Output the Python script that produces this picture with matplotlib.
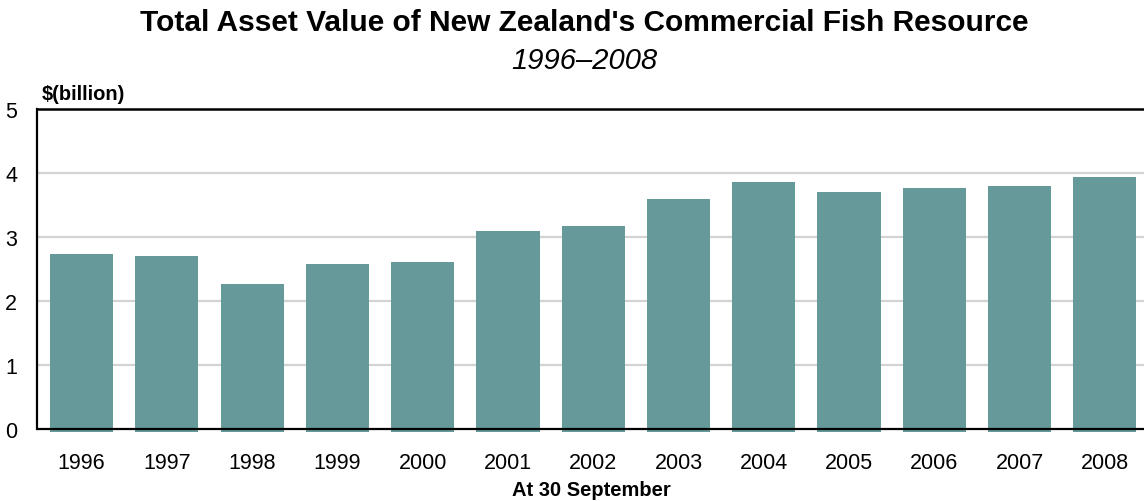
import matplotlib
matplotlib.use("Agg")
import matplotlib.pyplot as plt
import numpy as np

plt.rcParams['font.family'] = ['Liberation Sans', 'DejaVu Sans']

years = ["1996", "1997", "1998", "1999", "2000", "2001", "2002",
         "2003", "2004", "2005", "2006", "2007", "2008"]
values = [2.73, 2.70, 2.27, 2.58, 2.61, 3.09, 3.17, 3.59, 3.86, 3.70, 3.77, 3.80, 3.94]
yticks = [0, 1, 2, 3, 4, 5]

BAR_COLOR = "#669999"
OVERHANG = 0.05

W, H = 1144, 502
fig = plt.figure(figsize=(W / 100, H / 100), dpi=100)
ax_left = 36.5 / W
ax_top = 1 - 110 / H
ax_bot = 1 - 433.8 / H
ax = fig.add_axes([ax_left, ax_bot, 1.0 - ax_left, ax_top - ax_bot])

x = np.arange(len(years))
vals = np.array(values)
ax.bar(x, vals + OVERHANG, bottom=-OVERHANG, width=0.74, color=BAR_COLOR, zorder=2)

ax.set_xlim(-0.53, 12.46)
ax.set_ylim(-0.06, 5)
ax.set_yticks(yticks)
ax.set_yticklabels([str(t) for t in yticks], fontsize=15.5)
ax.set_xticks(x)
ax.set_xticklabels(years, fontsize=15.5)
ax.tick_params(axis='both', length=0)
ax.tick_params(axis='y', pad=14)
ax.tick_params(axis='x', pad=14)

for t in yticks[1:-1]:
    ax.axhline(t, color="#d3d3d3", lw=1.6, zorder=1)
ax.axhline(0, color="black", lw=1.6, zorder=3)
ax.axhline(5, color="black", lw=1.8, zorder=3, clip_on=False)

for s in ["top", "right", "bottom"]:
    ax.spines[s].set_visible(False)
ax.spines["left"].set_bounds(0, 5)
ax.spines["left"].set_linewidth(1.6)

fig.text(584 / W, 1 - 23 / H, "Total Asset Value of New Zealand's Commercial Fish Resource",
         ha="center", va="center", fontsize=21.5, fontweight="bold")
fig.text(584 / W, 1 - 61 / H, "1996\u20132008", ha="center", va="center",
         fontsize=21, fontstyle="italic")
fig.text(42 / W, 1 - 94 / H, "$(billion)", ha="left", va="center",
         fontsize=14.5, fontweight="bold")
fig.text(591 / W, 1 - 491 / H, "At 30 September", ha="center", va="center",
         fontsize=14.5, fontweight="bold")

fig.savefig("out.png", dpi=100)
